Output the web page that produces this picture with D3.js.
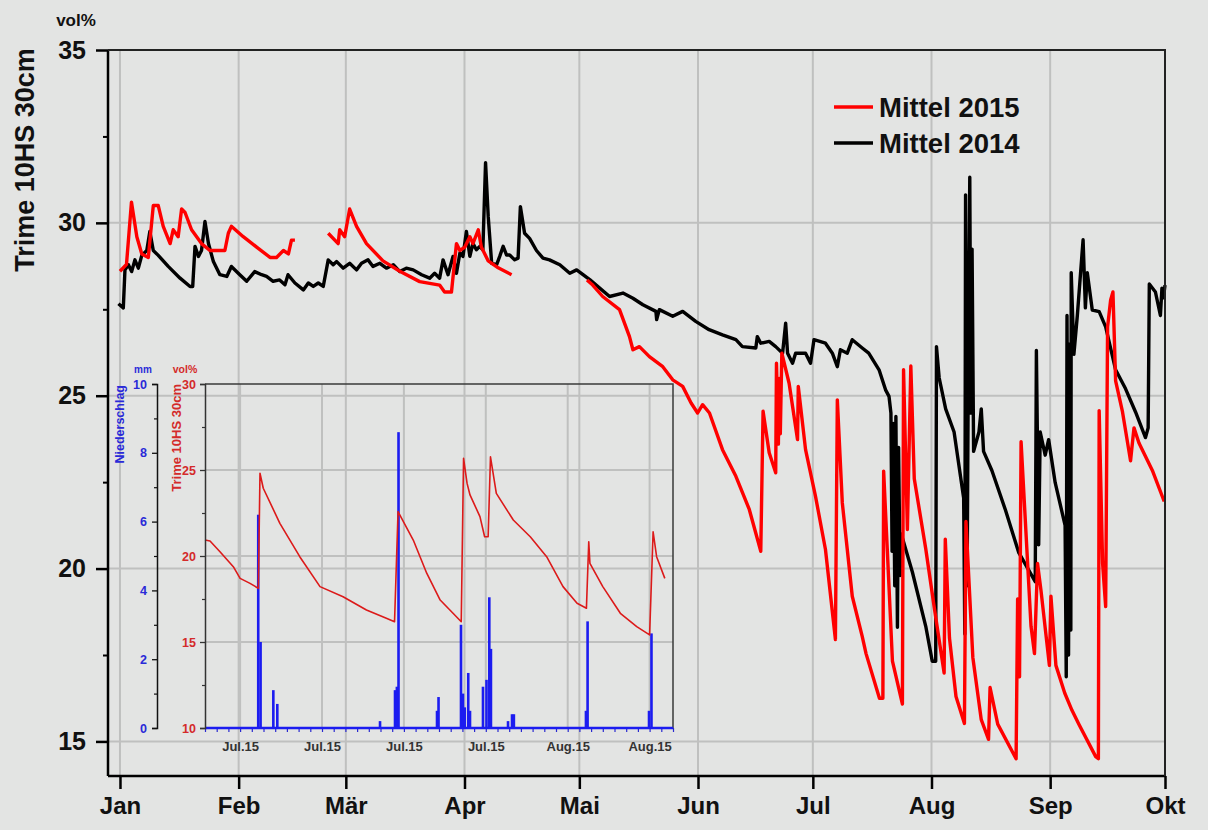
<!DOCTYPE html>
<html><head><meta charset="utf-8">
<script src="https://cdn.jsdelivr.net/npm/d3@7"></script>
<style>
html,body{margin:0;padding:0;background:#e3e4e3;}
svg{display:block;font-family:"Liberation Sans",Arial,sans-serif;font-weight:bold;}
</style></head><body>
<svg id="chart" width="1208" height="830"></svg>
<script>
// ---------- main chart data ----------
const monthLabels = ["Jan","Feb","Mär","Apr","Mai","Jun","Jul","Aug","Sep","Okt"];
const yTicks = [15,20,25,30,35];
const yMinorTicks = [17.5,22.5,27.5,32.5];
const legendLabels = ["Mittel 2015","Mittel 2014"];
const yUnit = "vol%";
const yTitle = "Trime 10HS 30cm";

// [day of year (0 = 1 Jan), vol%]; null marks a gap
const mittel2015 = [
 [0,28.6],[1.7,28.8],[3.0,30.6],[4.4,29.6],[5.7,29.1],[7.4,29.0],[8.7,30.5],[10.0,30.5],[11.3,29.9],[13.1,29.4],
 [13.9,29.8],[15.2,29.6],[16.1,30.4],[17.0,30.3],[18.7,29.8],[21.3,29.4],[23.5,29.2],[27.4,29.2],[28.3,29.7],[29.1,29.9],
 [32.2,29.6],[35.7,29.3],[39.2,29.0],[40.9,29.0],[42.7,29.2],[44.0,29.1],[44.8,29.5],[45.7,29.5],
 [50,null],
 [54.4,29.7],[57.0,29.4],[57.4,29.8],[58.7,29.6],[60.0,30.4],[61.8,29.9],[64.4,29.4],[68.7,28.9],[73.1,28.6],[78.3,28.3],
 [83.5,28.2],[84.8,28.0],[86.6,28.0],[87.9,29.4],[88.8,29.2],[90.1,29.3],[91.4,29.6],[92.2,29.4],[93.6,29.8],[94.4,29.3],
 [96.2,28.9],[98.8,28.7],[102.3,28.5],
 [110,null],
 [122,28.35],[123.5,28.2],[126.1,27.87],[130.5,27.49],[133.1,26.71],[134.0,26.33],[135.7,26.42],[138.3,26.13],[141.8,25.84],
 [144.4,25.46],[147.0,25.27],[149.2,24.79],[150.9,24.5],[152.2,24.74],[154.0,24.5],[157.4,23.44],[160.9,22.67],[164.4,21.71],
 [167.4,20.5],[168.0,24.55],[169.6,23.35],[171.3,22.77],[171.5,25.94],[172.0,23.6],[172.2,25.5],[172.5,23.9],[172.9,26.23],
 [174.8,25.36],[177.0,23.73],[177.2,25.27],[179.1,23.44],[181.7,22.09],[184.3,20.55],[186.9,17.95],[187.4,24.88],[188.7,21.9],
 [191.3,19.2],[193.9,18.04],[194.9,17.54],[198.4,16.25],[199.3,16.25],[199.5,22.82],[201.8,17.32],[204.4,16.08],[204.7,25.75],
 [205.7,21.13],[206.6,25.86],[207.5,22.6],[210.5,20.57],[212.7,18.89],[215.3,16.98],[215.6,20.85],[216.7,17.99],[218.4,16.3],
 [220.6,15.52],[221.0,21.36],[222.8,17.43],[225.0,15.63],[226.9,15.06],[227.3,16.56],[229.3,15.5],[234.1,14.5],[234.5,19.12],
 [235.0,16.87],[235.4,23.67],[238.0,18.33],[238.9,17.54],[239.7,20.15],[240.6,19.37],[242.8,17.2],[243.2,19.2],[244.5,17.2],
 [246.8,16.4],[248.7,15.9],[250.5,15.5],[254.9,14.56],[255.6,14.5],[255.8,24.57],[256.7,20.15],[257.5,18.9],[258.0,26.99],
 [258.8,27.77],[259.4,28.0],[260.1,25.43],[261.9,24.53],[264.0,23.12],[264.9,24.07],[266.2,23.63],[269.7,22.84],[272.8,21.94]
];
const mittel2014 = [
 [-0.4,27.66],[0.87,27.54],[1.3,28.64],[2.2,28.79],[3.05,28.59],[3.9,28.93],[4.8,28.69],[5.7,29.06],[7.0,29.2],[7.8,29.75],
 [8.7,29.2],[10.0,29.06],[12.6,28.74],[15.7,28.4],[18.3,28.16],[19.0,28.16],[19.6,29.32],[20.5,29.03],[21.3,29.2],[22.2,30.04],
 [23.1,29.41],[24.4,28.88],[26.1,28.5],[27.9,28.45],[29.1,28.74],[31.3,28.5],[33.1,28.31],[35.2,28.59],[37.0,28.5],[38.3,28.45],
 [40.0,28.31],[41.7,28.35],[43.1,28.21],[43.9,28.5],[45.7,28.26],[47.9,28.06],[49.2,28.26],[50.5,28.16],[51.8,28.26],[53.1,28.16],
 [54.4,28.93],[55.7,28.79],[56.6,28.88],[58.3,28.69],[60.0,28.83],[61.8,28.64],[63.1,28.83],[64.8,28.93],[66.1,28.74],[67.9,28.83],
 [69.6,28.69],[71.4,28.79],[73.1,28.59],[74.8,28.69],[76.6,28.64],[78.8,28.5],[80.9,28.4],[82.2,28.54],[83.5,28.4],[84.4,28.93],
 [85.7,28.5],[87.0,29.03],[87.9,28.54],[88.8,29.13],[89.6,29.03],[90.5,29.75],[91.4,29.03],[92.2,29.41],[93.1,29.22],[94.0,29.32],
 [94.8,29.22],[95.5,31.74],[96.2,30.18],[97.1,28.83],[98.4,28.79],[99.2,29.03],[100.1,29.32],[101.0,29.07],[101.8,29.07],[103.1,28.93],
 [104.0,28.98],[104.6,30.47],[105.7,29.7],[107.0,29.55],[108.8,29.2],[110.5,28.98],[112.2,28.93],[114.9,28.79],[117.5,28.54],[119.3,28.64],
 [122.8,28.35],[127.9,27.87],[131.4,27.97],[134.0,27.82],[136.6,27.63],[140.0,27.44],[140.2,27.2],[140.9,27.49],[144.4,27.3],[147.0,27.44],
 [150.4,27.15],[153.9,26.91],[157.4,26.76],[160.9,26.62],[162.6,26.42],[166.1,26.38],[166.5,26.71],[167.4,26.52],[169.6,26.57],[171.3,26.42],
 [173.1,26.23],[173.9,27.1],[174.4,26.23],[175.7,25.94],[176.5,26.23],[179.1,26.23],[180.4,25.94],[181.3,26.62],[184.3,26.52],[186.1,26.23],
 [187.4,25.84],[188.2,26.33],[190.0,26.23],[191.3,26.62],[193.9,26.38],[195.6,26.23],[198.3,25.75],[200.0,25.17],[200.9,24.98],[201.4,24.5],
 [201.7,20.5],[202.0,24.2],[202.4,19.5],[202.7,24.4],[203.1,18.3],[203.4,23.5],[203.8,19.8],[204.1,21.0],[207.0,19.9],[210.5,18.33],
 [212.2,17.32],[213.1,17.32],[213.3,26.42],[214.0,25.52],[215.7,24.62],[217.9,23.95],[220.4,22.04],[220.7,18.11],[220.9,30.81],[221.3,19.5],
 [221.6,25.52],[222.0,31.32],[222.3,24.5],[222.6,29.24],[223.0,23.39],[224.4,23.95],[225.0,24.62],[225.6,23.39],[227.8,22.83],[231.3,21.7],
 [234.8,20.46],[239.1,19.62],[239.4,26.31],[240.0,20.69],[240.4,23.95],[241.7,23.28],[242.6,23.73],[244.3,22.49],[246.9,21.25],[247.2,16.87],
 [247.4,27.32],[247.8,17.5],[248.1,26.5],[248.4,18.22],[248.5,28.56],[249.2,26.2],[250.1,27.32],[251.6,29.51],[252.2,27.54],[252.7,28.56],
 [254.0,27.48],[255.8,27.43],[257.5,26.99],[260.1,25.75],[262.7,25.2],[265.3,24.53],[267.9,23.79],[268.6,24.07],[268.9,28.23],[270.5,28.0],
 [271.8,27.32],[272.2,28.11],[272.6,27.83],[273,28.2]
];

// ---------- inset data ----------
const insetTickLabels = ["Jul.15","Jul.15","Jul.15","Jul.15","Aug.15","Aug.15"];
const insetSoilTicks = [10,15,20,25,30];
const insetSoilMinor = [12.5,17.5,22.5,27.5];
const insetRainTicks = [0,2,4,6,8,10];
const insetRainMinor = [1,3,5,7,9];
// [days since 2 Jul 2015, vol%]
const insetSoil = [
 [0,20.93],[0.43,20.87],[1.28,20.25],[2.42,19.38],[3.0,18.7],[3.85,18.41],[4.56,18.12],[4.7,24.81],[4.98,23.94],[6.4,21.9],
 [8.1,19.96],[9.83,18.22],[11.8,17.63],[13.8,16.86],[15.5,16.38],[16.2,16.18],[16.5,22.58],[17.8,20.93],[18.95,19.0],[20.1,17.44],
 [21.2,16.67],[21.9,16.18],[22.1,25.68],[22.4,24.22],[22.65,23.55],[23.5,22.29],[23.9,21.12],[24.2,21.12],[24.4,25.77],[24.9,23.64],
 [26.35,22.09],[27.8,21.12],[29.2,19.96],[30.6,18.22],[31.8,17.25],[32.6,16.96],[32.8,20.83],[32.9,19.57],[34.0,18.22],[35.5,16.67],
 [36.9,15.89],[38.0,15.41],[38.3,21.41],[38.6,19.96],[39.3,18.7]
];
// [days since 2 Jul 2015, mm]
const insetRain = [
 [4.55,6.2],[4.75,2.5],[5.84,1.1],[6.18,0.7],[14.96,0.2],[16.24,1.1],[16.4,1.2],[16.54,8.6],[19.83,0.5],[19.96,0.9],
 [21.88,3.0],[22.05,1.0],[22.2,0.6],[22.5,1.6],[22.65,0.5],[23.76,1.2],[24.06,1.4],[24.3,3.8],[24.44,2.3],[25.9,0.2],
 [26.24,0.4],[26.4,0.4],[32.56,0.5],[32.7,3.1],[37.95,0.5],[38.16,2.75]
];

// ---------- drawing ----------
const svg = d3.select("#chart");
const GRID = "#bfc0bf";
const FONT = "Liberation Sans, Arial, sans-serif";
const base2015 = new Date(2015,0,1);
const baseInset = new Date(2015,6,2);
const atDay = (base,d) => new Date(base.getTime() + d*864e5);

const x = d3.scaleTime().domain([atDay(base2015,-3.13), new Date(2015,9,1)]).range([108,1165]);
const y = d3.scaleLinear().domain([14,35]).range([776,50]);
const monthDates = monthLabels.map((m,i)=>new Date(2015,i,1));

// main grid
const g = svg.append("g");
g.selectAll(".vg").data(monthDates.slice(0,-1)).join("line")
  .attr("x1",d=>x(d)).attr("x2",d=>x(d)).attr("y1",y(35)).attr("y2",y(14))
  .attr("stroke",GRID).attr("stroke-width",2);
g.selectAll(".hg").data(yTicks.slice(0,-1)).join("line")
  .attr("x1",x.range()[0]).attr("x2",x.range()[1]).attr("y1",d=>y(d)).attr("y2",d=>y(d))
  .attr("stroke",GRID).attr("stroke-width",2);

// ---------- inset ----------
const xi = d3.scaleTime().domain([baseInset, new Date(2015,7,11)]).range([205,673]);
const yi = d3.scaleLinear().domain([10,30]).range([728,384]);
const yr = d3.scaleLinear().domain([0,10]).range([728,384]);
const weeks = d3.timeSunday.range(baseInset, new Date(2015,7,11));
const days = d3.timeDay.range(baseInset, new Date(2015,7,12));
const ig = svg.append("g");
ig.selectAll(".ivg").data(weeks).join("line")
  .attr("x1",d=>xi(d)).attr("x2",d=>xi(d)).attr("y1",yi(30)).attr("y2",yi(10))
  .attr("stroke",GRID).attr("stroke-width",2);
ig.selectAll(".ihg").data([15,20,25]).join("line")
  .attr("x1",xi.range()[0]).attr("x2",xi.range()[1]).attr("y1",d=>yi(d)).attr("y2",d=>yi(d))
  .attr("stroke",GRID).attr("stroke-width",2);
ig.append("path").attr("d",`M${xi.range()[0]},${yi(30)}H${xi.range()[1]}V${yi(10)}`)
  .attr("fill","none").attr("stroke","#3a3a3a").attr("stroke-width",1.5);
ig.selectAll(".rain").data(insetRain).join("rect")
  .attr("x",d=>xi(atDay(baseInset,d[0]))-1.3).attr("width",2.6)
  .attr("y",d=>yr(d[1])).attr("height",d=>yr(0)-yr(d[1]))
  .attr("fill","#1c1cf0");
ig.append("path").datum(insetSoil)
  .attr("d",d3.line().x(d=>xi(atDay(baseInset,d[0]))).y(d=>yi(d[1])))
  .attr("fill","none").attr("stroke","#dc1a1a").attr("stroke-width",1.6).attr("stroke-linejoin","round");
const ixa = ig.append("g").attr("transform",`translate(0,${yi(10)})`)
  .call(d3.axisBottom(xi).tickValues(days).tickSize(4).tickFormat(""));
ixa.select(".domain").remove();
ixa.selectAll("line").attr("stroke","#2a2ad0").attr("stroke-width",1.2);
ig.append("line").attr("x1",xi.range()[0]).attr("x2",xi.range()[1]).attr("y1",yi(10)).attr("y2",yi(10))
  .attr("stroke","#1c1cf0").attr("stroke-width",2.5);
const ixl = ig.append("g").attr("transform",`translate(0,${yi(10)})`)
  .call(d3.axisBottom(xi).tickValues(weeks).tickSize(0).tickPadding(14).tickFormat((d,i)=>insetTickLabels[i]));
ixl.select(".domain").remove();
ixl.selectAll("text").attr("font-size",13).attr("font-weight","bold").attr("fill","#333").attr("font-family",FONT);

const ra = ig.append("g").attr("transform",`translate(${xi.range()[0]},0)`)
  .call(d3.axisLeft(yi).tickValues(insetSoilTicks).tickSize(5).tickPadding(4));
ra.select(".domain").attr("stroke","#333").attr("stroke-width",1.5);
ra.selectAll("line").attr("stroke","#333").attr("stroke-width",1.3);
ra.selectAll("text").attr("font-size",12.5).attr("font-weight","bold").attr("fill","#d42a2a").attr("font-family",FONT);
const ram = ig.append("g").attr("transform",`translate(${xi.range()[0]},0)`)
  .call(d3.axisLeft(yi).tickValues(insetSoilMinor).tickSize(3).tickFormat(""));
ram.select(".domain").remove();
ram.selectAll("line").attr("stroke","#333").attr("stroke-width",1.2);

const ba = ig.append("g").attr("transform",`translate(157,0)`)
  .call(d3.axisLeft(yr).tickValues(insetRainTicks).tickSize(5).tickPadding(5));
ba.select(".domain").attr("stroke","#111").attr("stroke-width",1.5);
ba.selectAll("line").attr("stroke","#111").attr("stroke-width",1.3);
ba.selectAll("text").attr("font-size",12.5).attr("font-weight","bold").attr("fill","#2a2ad8").attr("font-family",FONT);
const bam = ig.append("g").attr("transform",`translate(157,0)`)
  .call(d3.axisLeft(yr).tickValues(insetRainMinor).tickSize(3).tickFormat(""));
bam.select(".domain").remove();
bam.selectAll("line").attr("stroke","#111").attr("stroke-width",1.2);

ig.append("text").attr("transform","translate(124,385) rotate(-90)").attr("text-anchor","end")
  .attr("font-size",12.5).attr("fill","#2a2ad8").text("Niederschlag");
ig.append("text").attr("x",143).attr("y",373).attr("text-anchor","middle")
  .attr("font-size",10).attr("fill","#2a2ad8").text("mm");
ig.append("text").attr("transform","translate(181,384) rotate(-90)").attr("text-anchor","end")
  .attr("font-size",13).attr("fill","#d42a2a").text(yTitle);
ig.append("text").attr("x",185).attr("y",373).attr("text-anchor","middle")
  .attr("font-size",10.5).attr("fill","#d42a2a").text(yUnit);

// ---------- main lines ----------
const line = d3.line().defined(d=>d[1]!==null)
  .x(d=>x(atDay(base2015,d[0]))).y(d=>y(d[1])).curve(d3.curveLinear);
svg.append("path").datum(mittel2014).attr("d",line)
  .attr("fill","none").attr("stroke","#000").attr("stroke-width",3.4).attr("stroke-linejoin","round");
svg.append("path").datum(mittel2015).attr("d",line)
  .attr("fill","none").attr("stroke","#ff0000").attr("stroke-width",3.4).attr("stroke-linejoin","round");

// ---------- main axes ----------
const ax = svg.append("g").attr("transform",`translate(0,${y(14)})`)
  .call(d3.axisBottom(x).tickValues(monthDates).tickSize(13).tickPadding(8).tickFormat((d,i)=>monthLabels[i]));
ax.select(".domain").attr("stroke","#000").attr("stroke-width",2.5).attr("d",`M${x.range()[0]},0H${x.range()[1]}`);
ax.selectAll("line").attr("stroke","#000").attr("stroke-width",2.5);
ax.selectAll("text").attr("font-size",24).attr("font-weight","bold").attr("fill","#111").attr("font-family",FONT);

const ay = svg.append("g").attr("transform",`translate(${x.range()[0]},0)`)
  .call(d3.axisLeft(y).tickValues(yTicks).tickSize(12).tickPadding(10));
ay.select(".domain").attr("stroke","#000").attr("stroke-width",2.5).attr("d",`M0,${y(14)}V${y(35)}`);
ay.selectAll("line").attr("stroke","#000").attr("stroke-width",2.5);
ay.selectAll("text").attr("font-size",25).attr("font-weight","bold").attr("fill","#111").attr("font-family",FONT);
const aym = svg.append("g").attr("transform",`translate(${x.range()[0]},0)`)
  .call(d3.axisLeft(y).tickValues(yMinorTicks).tickSize(5).tickFormat(""));
aym.select(".domain").remove();
aym.selectAll("line").attr("stroke","#000").attr("stroke-width",2);

svg.append("path").attr("d",`M${x.range()[0]},${y(35)}H${x.range()[1]}V${y(14)}`)
  .attr("fill","none").attr("stroke","#222").attr("stroke-width",2);

// titles
svg.append("text").attr("x",76).attr("y",26).attr("text-anchor","middle")
  .attr("font-size",17).attr("fill","#111").text(yUnit);
svg.append("text").attr("transform","translate(34,160) rotate(-90)").attr("text-anchor","middle")
  .attr("font-size",27).attr("fill","#111").text(yTitle);

// legend
const legColors = ["#ff0000","#000"];
const lg = svg.append("g");
legendLabels.forEach((t,i)=>{
  const yy = 107 + i*36;
  lg.append("line").attr("x1",834).attr("x2",873).attr("y1",yy).attr("y2",yy)
    .attr("stroke",legColors[i]).attr("stroke-width",3.5);
  lg.append("text").attr("x",879).attr("y",yy+10).attr("font-size",27.5).attr("fill","#111").text(t);
});
</script>
</body></html>
